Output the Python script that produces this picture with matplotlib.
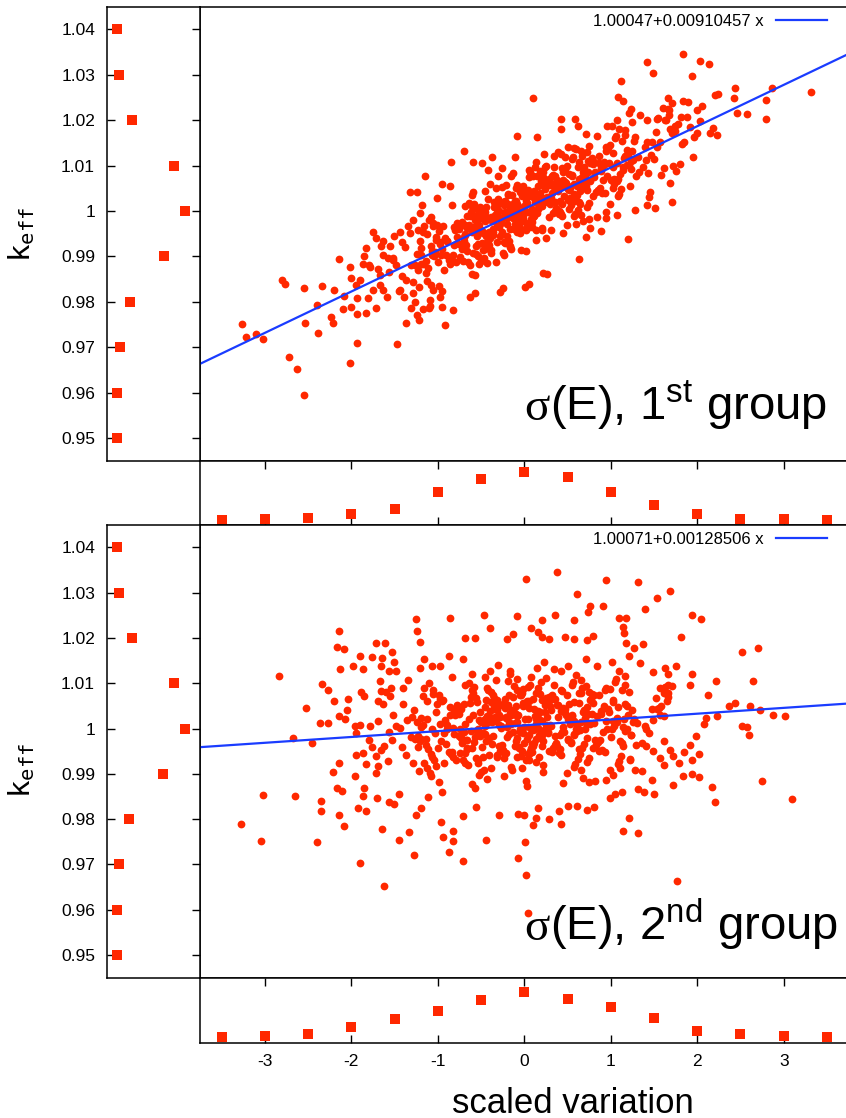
import numpy as np
import matplotlib
matplotlib.use("Agg")
import matplotlib.pyplot as plt

plt.rcParams["font.family"] = ["Liberation Sans", "DejaVu Sans"]
plt.rcParams["mathtext.fontset"] = "custom"
plt.rcParams["mathtext.rm"] = "Liberation Sans"
plt.rcParams["mathtext.it"] = "Liberation Sans:italic"
plt.rcParams["mathtext.bf"] = "Liberation Sans:bold"
plt.rcParams["mathtext.tt"] = "DejaVu Sans Mono"
plt.rcParams["axes.unicode_minus"] = False

RED = "#ff2800"
BLUE = "#1a3cff"
W, H = 846, 1118

XLIM = (-3.75, 3.72)
YLIM = (0.945, 1.045)

# linear fits given in the legends
FIT1 = (1.00047, 0.00910457)
FIT2 = (1.00071, 0.00128506)

# marginal histogram of the scaled variation
VAR_BINS = [-3.5, -3, -2.5, -2, -1.5, -1, -0.5, 0, 0.5, 1, 1.5, 2, 2.5, 3, 3.5]
VAR_HIST1 = [0, 4, 8, 24, 44, 116, 168, 196, 176, 116, 64, 24, 4, 4, 0]
VAR_HIST2 = [4, 8, 16, 45, 76, 108, 152, 184, 156, 124, 80, 28, 16, 8, 4]

# marginal histogram of keff
KEFF_BINS = [0.95, 0.96, 0.97, 0.98, 0.99, 1.00, 1.01, 1.02, 1.03, 1.04]
KEFF_LABELS = ["0.95", "0.96", "0.97", "0.98", "0.99", "1", "1.01", "1.02", "1.03", "1.04"]
KEFF_HIST1 = [4, 2, 18, 68, 238, 344, 288, 79, 14, 4]
KEFF_HIST2 = [2, 6, 12, 64, 234, 344, 288, 78, 16, 2]

# (scaled variation, keff), 1st group
PTS1 = [
    (-3.26,0.9751),(-3.22,0.9723),(-3.10,0.9729),(-3.02,0.9718),(-2.80,0.9848),(-2.77,0.9840),(-2.55,0.9831),
    (-2.34,0.9835),(-2.54,0.9754),(-2.40,0.9793),(-2.38,0.9732),(-2.24,0.9767),(-2.21,0.9754),(-2.14,0.9895),
    (-2.09,0.9813),(-2.01,0.9877),(-2.00,0.9853),(-2.00,0.9789),(-1.94,0.9809),(-1.94,0.9774),(-1.90,0.9848),
    (-1.87,0.9884),(-1.85,0.9901),(-1.83,0.9919),(-1.78,0.9877),(-1.81,0.9809),(-1.83,0.9776),(-1.75,0.9954),
    (-1.71,0.9941),(-1.63,0.9934),(-1.75,0.9826),(-1.67,0.9859),(-1.67,0.9837),(-1.63,0.9826),(-1.59,0.9811),
    (-1.58,0.9897),(-1.52,0.9892),(-1.51,0.9945),(-1.44,0.9954),(-1.41,0.9932),(-1.38,0.9921),(-1.44,0.9826),
    (-1.39,0.9811),(-1.37,0.9754),(-1.31,0.9787),(-1.29,0.9820),(-1.24,0.9771),(-1.22,0.9760),(-1.17,0.9785),
    (-1.10,0.9787),(-1.09,0.9804),(-1.06,0.9826),(-0.98,0.9811),(-0.95,0.9789),(-0.92,0.9749),(-0.82,0.9782),
    (-0.63,0.9811),(-0.57,0.9820),(-0.28,0.9822),(-0.25,0.9831),(-1.32,1.0042),(-1.24,1.0042),(-1.18,1.0013),
    (-1.15,1.0077),(-0.95,1.0060),(-0.85,1.0108),(-0.70,1.0132),(-0.59,1.0108),(-0.49,1.0106),(-0.37,1.0119),
    (-0.09,1.0165),(-0.11,1.0119),(-0.26,1.0095),(-0.42,1.0090),(-0.86,1.0055),(-1.01,1.0029),(-1.08,0.9987),
    (-1.01,0.9969),(-1.29,0.9980),(-1.23,0.9958),(-1.32,0.9952),
    (-2.72,0.9679),(-2.63,0.9653),(-2.55,0.9595),(-1.93,0.9709),(-2.01,0.9666),(-1.47,0.9706),(-1.09,0.9790),
    (-1.26,0.9800),
    (1.83,1.0346),(1.42,1.0328),(2.03,1.0330),(2.14,1.0324),(1.49,1.0304),(1.94,1.0297),(1.12,1.0286),
    (0.10,1.0249),(2.44,1.0271),(2.87,1.0271),(3.31,1.0262),(2.24,1.0258),(2.42,1.0249),(2.79,1.0244),
    (1.08,1.0251),(1.14,1.0242),(1.66,1.0249),(1.71,1.0238),(1.83,1.0242),(1.89,1.0240),(1.23,1.0225),
    (1.67,1.0222),(2.00,1.0222),(2.57,1.0214),(2.46,1.0216),(2.79,1.0203),(2.03,1.0198),(2.18,1.0183),
    (2.23,1.0167),(1.96,1.0163),(2.00,1.0172),(1.81,1.0207),(1.88,1.0207),(1.74,1.0187),(1.82,1.0148),
    (1.95,1.0119),(1.68,1.0062),(1.71,1.0020),(1.80,1.0104),(1.75,1.0088),(1.51,1.0007),(1.42,1.0013),
    (1.28,1.0002),(1.44,1.0031),(1.20,0.9939),(0.63,0.9895),(1.07,0.9991),(0.94,0.9985),(0.89,0.9956),
    (0.76,0.9963),(0.71,0.9943),(0.84,0.9987),(0.75,0.9983),(0.15,1.0163),(0.42,1.0203),(0.59,1.0203),
    (0.62,1.0187),(0.42,1.0181),(0.22,0.9864),(0.26,0.9862),(0.01,0.9833),(0.05,0.9840),(0.96,1.0187),
    (1.07,1.0200),(1.25,1.0196),(1.42,1.0200),(1.53,1.0203),(1.64,1.0200),
    (-0.22,0.9997),(0.05,0.9965),(0.18,1.0089),(-0.09,0.9977),(0.12,1.0019),(-0.15,1.0076),(0.21,0.9962),
    (-0.03,1.0032),(0.09,1.0005),(-0.19,1.0035),(0.02,0.9912),(0.24,1.0048),(-0.12,0.9961),(0.15,1.0078),
    (-0.06,0.9995),(0.07,1.0087),(-0.24,0.9932),(0.11,1.0029),(-0.01,0.9977),(0.20,1.0063),(-0.17,0.9920),
    (0.03,1.0017),(-0.10,1.0051),(0.16,1.0005),(-0.04,0.9961),(0.23,1.0126),(-0.20,0.9985),(0.00,1.0038),
    (0.13,0.9959),(-0.13,1.0011),(0.06,1.0074),(-0.07,0.9963),(0.19,1.0029),(-0.23,0.9904),(0.10,1.0040),
    (-0.02,0.9991),(0.22,1.0074),(-0.16,0.9924),(0.04,1.0047),(-0.11,0.9971),(0.14,1.0108),(-0.05,0.9952),
    (0.17,1.0021),(-0.21,1.0057),(0.08,0.9982),(-0.08,1.0014),(0.25,0.9940),(-0.14,1.0036),(0.01,1.0000),
    (0.11,1.0043),(-0.18,0.9934),(0.05,1.0091),(-0.03,0.9983),(0.20,1.0058),(-0.25,0.9908),(0.14,1.0023),
    (-0.09,1.0057),(0.03,0.9966),(-0.12,1.0017),(0.18,1.0011),(-0.06,0.9990),(0.08,1.0035),(-0.20,0.9945),
    (0.22,1.0085),(0.00,1.0010),(-0.15,0.9917),(0.16,1.0055),(-0.02,0.9984),(0.12,1.0097),(-0.22,0.9930),
    (0.06,1.0038),(-0.10,0.9990),(0.19,1.0066),(-0.04,0.9913),(0.02,1.0023),(-0.17,0.9960),(0.24,1.0098),
    (-0.07,1.0000),(0.09,0.9965),(-0.13,1.0083),(0.15,0.9995),(-0.01,1.0042),(0.21,0.9958),(-0.19,1.0037),
    (0.04,0.9997),(-0.11,1.0021),(0.13,0.9937),(-0.24,0.9990),(0.07,0.9975),(0.10,1.0078),(-0.08,1.0016),
    (-0.18,0.9994),(0.08,0.9980),(-0.05,1.0041),(0.21,1.0010),(-0.14,1.0014),(0.02,0.9959),(0.17,1.0030),
    (-0.22,1.0021),(0.11,0.9990),(-0.08,1.0011),(0.04,0.9969),(-0.19,1.0016),(0.23,1.0020),(-0.01,1.0054),
    (0.14,0.9999),(-0.11,0.9998),(0.07,0.9976),(-0.24,1.0014),(0.19,1.0011),(-0.03,1.0047),(0.10,0.9986),
    (-0.16,1.0007),(0.00,1.0003),(0.25,1.0066),(-0.09,0.9953),(0.05,1.0034),(-0.20,0.9971),(0.13,1.0025),
    (-0.06,0.9970),(0.18,1.0040),(-0.13,0.9984),(0.03,1.0041),(0.22,1.0028),(-0.04,1.0043),(0.09,0.9976),
    (-0.21,0.9997),(0.16,1.0016),(-0.10,1.0023),(0.06,0.9998),(-0.15,1.0006),
    (-0.52,0.9970),(-0.31,0.9932),(-0.68,1.0011),(-0.44,0.9945),(-0.27,0.9983),(-0.61,1.0035),(-0.39,0.9908),
    (-0.73,0.9969),(-0.48,0.9953),(-0.35,1.0020),(-0.57,0.9858),(-0.29,1.0000),(-0.66,0.9912),(-0.42,1.0026),
    (-0.55,0.9945),(-0.33,1.0051),(-0.71,0.9889),(-0.46,0.9977),(-0.26,0.9954),(-0.63,0.9988),(-0.50,0.9889),
    (-0.37,0.9980),(-0.59,1.0006),(-0.41,0.9953),(-0.74,0.9898),(-0.30,1.0078),(-0.53,0.9955),(-0.45,0.9997),
    (-0.65,0.9888),(-0.34,0.9992),(-0.58,1.0016),(-0.28,0.9944),(-0.69,0.9949),(-0.43,0.9886),(-0.51,0.9985),
    (-0.36,0.9960),(-0.62,0.9998),(-0.47,0.9896),(-0.32,1.0014),(-0.72,0.9916),(-0.40,1.0059),(-0.56,0.9906),
    (-0.27,0.9981),(-0.64,1.0018),(-0.49,0.9930),(-0.38,0.9986),(-0.60,0.9862),(-0.44,1.0009),(-0.70,0.9935),
    (-0.31,1.0005),(-0.54,0.9901),(-0.46,1.0044),(-0.67,0.9925),(-0.35,1.0008),(-0.52,0.9884),(-0.29,0.9984),
    (-0.61,1.0010),(-0.41,0.9926),(-0.75,0.9960),(-0.48,0.9951),(-0.38,0.9915),(-0.57,0.9981),(-0.33,0.9887),
    (-0.66,0.9989),(-0.43,0.9982),(-0.53,0.9927),(-0.26,1.0052),(-0.70,0.9942),(-0.45,0.9916),(-0.59,1.0041),
    (-0.36,0.9948),(-0.50,0.9998),(-0.63,0.9882),(-0.30,1.0027),
    (-0.68,0.9948),(-0.42,0.9935),(-0.55,0.9991),(-0.29,0.9965),(-0.64,0.9969),(-0.48,0.9913),(-0.33,0.9984),
    (-0.72,0.9976),(-0.39,0.9945),(-0.58,0.9965),(-0.46,0.9923),(-0.69,0.9970),(-0.27,0.9974),(-0.51,1.0009),
    (-0.36,0.9953),(-0.61,0.9953),(-0.43,0.9931),(-0.74,0.9969),(-0.31,0.9966),(-0.53,1.0002),(-0.40,0.9941),
    (-0.66,0.9962),(-0.50,0.9958),(-0.25,1.0020),(-0.59,0.9907),(-0.45,0.9988),(-0.70,0.9925),(-0.37,0.9979),
    (-0.56,0.9924),(-0.32,0.9995),
    (0.48,1.0061),(0.29,0.9986),(0.66,1.0133),(0.41,1.0022),(0.57,1.0060),(0.34,1.0121),(0.72,1.0009),
    (0.52,1.0082),(0.26,1.0021),(0.63,1.0109),(0.45,0.9951),(0.69,1.0089),(0.37,1.0006),(0.55,1.0114),
    (0.31,1.0028),(0.60,1.0136),(0.43,0.9993),(0.74,1.0086),(0.50,1.0024),(0.28,1.0071),(0.58,0.9988),
    (0.39,1.0050),(0.67,1.0121),(0.46,1.0032),(0.33,0.9995),(0.71,1.0170),(0.53,1.0051),(0.27,1.0063),
    (0.62,1.0003),(0.42,1.0061),(0.56,1.0120),(0.35,1.0001),(0.70,1.0076),(0.49,0.9970),(0.30,1.0058),
    (0.64,1.0051),(0.44,1.0094),(0.59,0.9993),(0.36,1.0076),(0.73,1.0047),(0.51,1.0141),(0.40,0.9993),
    (0.65,1.0065),(0.25,1.0099),(0.54,1.0024),(0.47,1.0064),(0.68,0.9979),(0.32,1.0078),(0.61,1.0055),
    (0.38,1.0068),(0.75,1.0018),(0.43,1.0125),(0.57,1.0038),(0.29,1.0066),(0.66,0.9991),(0.50,1.0056),
    (0.34,1.0096),(0.63,1.0020),(0.45,1.0069),(0.70,1.0059),(0.27,1.0020),(0.55,1.0078),(0.40,0.9999),
    (0.72,1.0131),(0.48,1.0054),(0.31,0.9959),(0.62,1.0096),(0.36,1.0019),(0.58,1.0139),(0.44,0.9990),
    (0.69,1.0096),(0.52,1.0046),(0.33,1.0079),(0.60,0.9972),(0.47,1.0119),(0.26,1.0030),(0.64,1.0015),
    (0.39,1.0131),(0.53,1.0029),(0.74,1.0110),
    (0.32,1.0039),(0.58,1.0026),(0.45,1.0087),(0.71,1.0056),(0.36,1.0060),(0.52,1.0004),(0.67,1.0075),
    (0.28,1.0066),(0.61,1.0036),(0.42,1.0056),(0.54,1.0014),(0.31,1.0061),(0.73,1.0065),(0.49,1.0100),
    (0.64,1.0044),(0.39,1.0044),(0.57,1.0022),(0.26,1.0060),(0.69,1.0057),(0.47,1.0093),(0.60,1.0032),
    (0.34,1.0053),(0.50,1.0049),(0.75,1.0111),(0.41,0.9998),(0.55,1.0079),(0.30,1.0016),(0.63,1.0070),
    (0.44,1.0015),(0.68,1.0086),
    (0.98,1.0106),(0.79,1.0032),(1.16,1.0179),(0.91,1.0068),(1.07,1.0105),(0.84,1.0166),(1.22,1.0054),
    (1.02,1.0128),(0.76,1.0066),(1.13,1.0155),(0.95,0.9997),(1.19,1.0134),(0.87,1.0051),(1.05,1.0160),
    (0.81,1.0074),(1.10,1.0181),(0.93,1.0039),(1.24,1.0132),(1.00,1.0069),(0.78,1.0116),(1.08,1.0033),
    (0.89,1.0095),(1.17,1.0167),(0.96,1.0077),(0.83,1.0041),(1.21,1.0215),(1.03,1.0097),(0.77,1.0108),
    (1.12,1.0049),(0.92,1.0107),(1.06,1.0166),(0.85,1.0046),(1.20,1.0121),(0.99,1.0015),(0.80,1.0104),
    (1.14,1.0097),(0.94,1.0140),(1.09,1.0038),(0.86,1.0121),(1.23,1.0093),(1.01,1.0187),(0.90,1.0039),
    (1.15,1.0116),(0.75,1.0144),(1.04,1.0070),
    (0.82,1.0085),(1.08,1.0071),(0.95,1.0133),(1.21,1.0101),(0.86,1.0105),(1.02,1.0050),(1.17,1.0121),
    (0.78,1.0112),(1.11,1.0081),(0.92,1.0102),(1.04,1.0060),(0.81,1.0107),(1.23,1.0111),(0.99,1.0145),
    (1.14,1.0090),(0.89,1.0089),(1.07,1.0067),(0.76,1.0105),(1.19,1.0102),(0.97,1.0138),
    (1.48,1.0152),(1.29,1.0077),(1.66,1.0224),(1.41,1.0113),(1.57,1.0151),(1.34,1.0212),(1.72,1.0100),
    (1.52,1.0173),(1.26,1.0112),(1.63,1.0200),(1.45,1.0042),(1.69,1.0180),(1.37,1.0097),(1.55,1.0205),
    (1.31,1.0119),(1.60,1.0227),(1.43,1.0084),(1.74,1.0177),(1.50,1.0115),(1.28,1.0162),(1.58,1.0079),
    (1.39,1.0140),(1.67,1.0212),(1.46,1.0123),(1.33,1.0086),(1.71,1.0171),(1.53,1.0142),(1.27,1.0154),
    (1.62,1.0094),(1.42,1.0152),
    (1.85,1.0153),(2.05,1.0232),(1.78,1.0192),(2.15,1.0171),(1.92,1.0185),(2.20,1.0255),
    (-0.98,0.9928),(-0.79,0.9888),(-1.16,0.9967),(-0.91,0.9902),(-1.07,0.9911),(-0.84,1.0014),(-1.22,0.9832),
    (-1.02,0.9942),(-0.76,0.9928),(-1.13,0.9949),(-0.95,0.9824),(-1.19,0.9918),(-0.87,0.9893),(-1.05,0.9968),
    (-0.81,0.9926),(-1.10,0.9981),(-0.93,0.9870),(-1.24,0.9906),(-1.00,0.9887),(-0.78,0.9974),(-1.08,0.9837),
    (-0.89,0.9933),(-1.17,0.9954),(-0.96,0.9903),(-0.83,0.9890),(-1.21,0.9995),(-1.03,0.9909),(-0.77,0.9968),
    (-1.12,0.9845),(-0.92,0.9939),(-1.06,0.9973),(-0.85,0.9892),(-1.20,0.9903),(-0.99,0.9835),(-0.80,0.9958),
    (-1.14,0.9889),(-0.94,0.9968),
    (-0.82,0.9902),(-1.08,0.9924),(-0.95,0.9916),(-1.21,0.9933),(-0.86,0.9883),(-1.02,0.9936),(-1.17,0.9883),
    (-0.78,0.9942),(-1.11,0.9874),(-0.92,0.9940),(-1.04,0.9901),(-0.81,0.9964),(-1.23,0.9871),(-0.99,0.9957),
    (-1.14,0.9864),(-0.89,0.9935),(-1.07,0.9903),(-0.76,0.9963),(-1.19,0.9884),(-0.97,0.9932),
    (-1.48,0.9882),(-1.29,0.9843),(-1.66,0.9922),(-1.41,0.9857),(-1.57,0.9865),(-1.34,0.9968),(-1.72,0.9787),
    (-1.52,0.9897),(-1.26,0.9882),(-1.63,0.9904),(-1.45,0.9823),(-1.69,0.9872),(-1.37,0.9847),(-1.55,0.9923),
    (-1.31,0.9881),
    (-1.95,0.9838),(-2.10,0.9784),(-1.80,0.9881),(-2.20,0.9825),
]

# (scaled variation, keff), 2nd group
PTS2 = [
    (-2.84,1.0115),(-3.28,0.9789),(-3.05,0.9751),(-3.02,0.9854),(-2.65,0.9851),(-2.67,0.9980),(-2.53,1.0045),
    (-2.46,0.9967),(-2.40,0.9749),(-2.35,0.9841),(-2.35,0.9819),(-2.34,1.0099),(-2.36,1.0013),(-2.27,1.0013),
    (-2.27,1.0086),(-2.20,1.0060),(-2.17,1.0180),(-2.14,1.0215),(-2.08,1.0175),(-2.13,1.0132),(-2.14,1.0028),
    (-2.07,1.0021),(-2.04,1.0065),(-1.98,1.0137),(-1.90,1.0161),(-1.87,1.0131),(-1.89,1.0080),(-1.85,1.0072),
    (-1.96,1.0006),(-1.90,1.0008),(-1.78,1.0006),(-1.76,1.0159),(-1.71,1.0189),(-1.61,1.0189),(-1.64,1.0155),
    (-1.53,1.0170),(-1.66,1.0138),(-1.51,1.0148),(-1.57,1.0126),(-1.48,1.0127),(-1.67,1.0105),(-1.54,1.0090),
    (-1.60,1.0080),(-1.69,1.0060),(-1.40,1.0090),(-1.25,1.0242),(-1.24,1.0216),(-1.21,1.0190),(-1.16,1.0154),
    (-1.07,1.0138),(-0.97,1.0137),(-0.86,1.0243),(-0.87,1.0160),(-0.71,1.0154),(-0.47,1.0250),(-0.40,1.0222),
    (-0.09,1.0249),(0.02,1.0331),(-0.20,1.0198),(-0.13,1.0208),(-0.69,1.0200),(-0.57,1.0200),(-1.95,0.9942),
    (-1.87,0.9946),(-1.83,0.9922),(-1.96,0.9896),(-2.14,0.9925),(-2.21,0.9904),(-2.17,0.9869),(-2.11,0.9863),
    (-2.14,0.9810),(-2.08,0.9784),(-1.92,0.9825),(-1.83,0.9817),(-1.87,0.9851),(-1.85,0.9869),(-1.76,0.9959),
    (-1.69,0.9917),(-1.70,0.9847),(-1.65,0.9779),(-1.56,0.9838),(-1.51,0.9834),(-1.45,0.9755),(-1.33,0.9772),
    (-1.27,0.9721),(-1.20,0.9825),(-1.25,0.9809),(-1.11,0.9848),(-0.96,0.9793),(-0.94,0.9761),(-0.87,0.9727),
    (-0.83,0.9774),(-0.83,0.9751),(-0.71,0.9707),(-0.71,0.9806),(-0.56,0.9826),(-0.44,0.9754),(-0.29,0.9809),
    (-1.90,0.9704),(-1.62,0.9652),(-0.07,0.9715),(0.02,0.9677),(0.04,0.9593),(0.01,0.9750),(-0.07,0.9812),
    (0.38,1.0346),(0.95,1.0329),(1.31,1.0323),(0.61,1.0297),(1.53,1.0288),(1.68,1.0304),(0.36,1.0251),
    (0.76,1.0271),(0.91,1.0271),(0.74,1.0258),(0.57,1.0239),(0.21,1.0239),(1.10,1.0244),(1.18,1.0243),
    (1.40,1.0263),(1.94,1.0250),(2.04,1.0242),(1.81,1.0201),(1.14,1.0225),(1.15,1.0210),(1.18,1.0189),
    (1.27,1.0178),(1.37,1.0187),(0.08,1.0221),(0.16,1.0214),(0.20,1.0203),(0.29,1.0198),(0.47,1.0202),
    (0.57,1.0198),(0.73,1.0195),(0.79,1.0205),(2.52,1.0168),(2.70,1.0178),(1.75,1.0138),(1.94,1.0121),
    (1.92,1.0096),(2.22,1.0106),(2.12,1.0073),(2.64,1.0104),(2.37,1.0050),(2.44,1.0056),(2.61,1.0049),
    (2.72,1.0041),(2.88,1.0029),(3.02,1.0027),(2.23,1.0027),(2.10,1.0023),(2.08,1.0010),(2.52,1.0005),
    (2.57,1.0004),(2.60,0.9985),(1.99,0.9983),(1.92,0.9963),(2.02,0.9944),(1.85,0.9948),(1.94,0.9931),
    (1.79,0.9925),(1.83,0.9895),(1.94,0.9900),(2.02,0.9894),(1.72,0.9875),(2.17,0.9870),(2.21,0.9838),
    (2.75,0.9885),(3.09,0.9845),(1.48,0.9887),(1.32,0.9867),(1.38,0.9860),(1.50,0.9856),(1.21,0.9803),
    (1.14,0.9774),(1.32,0.9769),(1.77,0.9664),(0.10,0.9787),(0.13,0.9803),(0.28,0.9801),(0.43,0.9789),
    (0.16,0.9825),(0.40,0.9818),(0.51,0.9828),(0.61,0.9830),(0.72,0.9820),(0.81,0.9826),(0.00,0.9810),
    (0.99,0.9847),(1.05,0.9856),(1.13,0.9860),(0.75,0.9881),(0.82,0.9885),(1.03,0.9898),(1.11,0.9913),
    (1.22,0.9930),(1.28,0.9909),(1.36,0.9906),(1.41,0.9961),(1.49,0.9950),(1.61,0.9972),(1.68,0.9953),
    (1.57,0.9935),(1.61,0.9920),(1.49,1.0019),(1.61,1.0027),(1.56,1.0045),(1.65,1.0060),(1.66,1.0078),
    (1.57,1.0089),(1.63,1.0134),(1.66,1.0096),(1.49,1.0124),
    (-0.21,1.0024),(0.06,0.9944),(0.19,1.0102),(-0.08,0.9979),(0.13,1.0011),(-0.16,1.0126),(0.22,0.9920),
    (-0.02,1.0049),(0.10,0.9996),(-0.18,1.0073),(0.03,0.9874),(0.24,1.0036),(-0.11,0.9961),(0.16,1.0090),
    (-0.05,1.0000),(0.08,1.0113),(-0.23,0.9936),(0.12,1.0027),(0.00,0.9969),(0.21,1.0063),(-0.14,0.9909),
    (0.04,1.0020),(-0.09,1.0084),(0.17,0.9986),(-0.03,0.9951),(0.23,1.0147),(-0.20,1.0004),(0.01,1.0053),
    (0.14,0.9926),(-0.12,1.0032),(0.07,1.0097),(-0.06,0.9957),(0.20,1.0017),(-0.24,0.9895),(0.11,1.0043),
    (-0.01,0.9990),(0.18,1.0076),(-0.15,0.9915),(0.05,1.0060),(-0.10,0.9973),(0.15,1.0133),(-0.04,0.9940),
    (0.25,1.0008),(-0.19,1.0106),(0.09,0.9965),(-0.07,1.0029),(0.02,0.9884),(-0.13,1.0069),(0.12,0.9999),
    (-0.22,1.0046),(0.06,0.9930),(-0.17,1.0120),(0.19,0.9980),(-0.02,1.0056),(0.22,0.9903),(-0.09,1.0014),
    (0.04,1.0091),(-0.25,0.9948),(0.16,1.0039),(-0.05,0.9993),(0.10,1.0065),(-0.18,0.9987),(0.01,1.0022),
    (0.21,0.9962),(-0.12,1.0095),(0.07,1.0002),(-0.21,0.9947),(0.13,1.0078),(-0.03,0.9912),(0.24,1.0051),
    (-0.15,1.0010),(0.03,0.9977),(-0.08,1.0109),(0.17,0.9937),(-0.11,1.0034),
    (-0.18,1.0015),(0.08,0.9956),(-0.05,1.0073),(0.21,0.9985),(-0.14,1.0042),(0.02,0.9930),(0.17,1.0021),
    (-0.22,1.0065),(0.11,0.9967),(-0.08,1.0028),(0.04,0.9943),(-0.19,1.0052),(0.23,0.9997),(-0.01,1.0087),
    (0.14,0.9977),(-0.11,1.0012),(0.07,0.9951),(-0.24,1.0057),(0.19,0.9989),(-0.03,1.0079),(0.10,0.9962),
    (-0.16,1.0034),(0.00,1.0004),(0.25,1.0068),(-0.09,0.9937),(0.05,1.0045),(-0.20,0.9981),(0.13,1.0020),
    (-0.06,0.9959),(0.18,1.0037),(-0.13,0.9993),(0.03,1.0060),(0.22,0.9972),(-0.04,1.0074),(0.09,0.9948),
    (-0.21,1.0025),(0.16,1.0001),(-0.10,1.0050),(0.06,0.9986),(-0.15,1.0031),
    (-0.52,1.0018),(-0.31,0.9938),(-0.68,1.0096),(-0.44,0.9973),(-0.27,1.0005),(-0.61,1.0120),(-0.39,0.9914),
    (-0.73,1.0043),(-0.48,0.9990),(-0.35,1.0067),(-0.57,0.9868),(-0.29,1.0030),(-0.66,0.9955),(-0.42,1.0084),
    (-0.55,0.9994),(-0.33,1.0107),(-0.71,0.9930),(-0.46,1.0021),(-0.26,0.9963),(-0.63,1.0057),(-0.50,0.9903),
    (-0.37,1.0014),(-0.59,1.0078),(-0.41,0.9980),(-0.74,0.9945),(-0.30,1.0141),(-0.53,0.9998),(-0.45,1.0047),
    (-0.65,0.9920),(-0.34,1.0026),(-0.58,1.0091),(-0.28,0.9951),(-0.69,1.0011),(-0.43,0.9889),(-0.51,1.0037),
    (-0.36,0.9984),(-0.62,1.0070),(-0.47,0.9909),(-0.32,1.0054),(-0.72,0.9967),(-0.40,1.0127),(-0.56,0.9934),
    (-0.27,1.0002),(-0.64,1.0100),(-0.49,0.9959),(-0.38,1.0023),(-0.60,0.9878),(-0.44,1.0063),(-0.70,0.9993),
    (-0.31,1.0040),(-0.54,0.9924),(-0.46,1.0114),(-0.67,0.9974),(-0.35,1.0050),(-0.52,0.9897),(-0.29,1.0008),
    (-0.61,1.0085),(-0.41,0.9942),(-0.75,1.0033),(-0.48,0.9987),(-0.38,1.0059),(-0.57,0.9981),(-0.33,1.0016),
    (-0.66,0.9956),(-0.43,1.0089),(-0.53,0.9996),
    (-0.68,0.9924),(-0.42,1.0015),(-0.55,1.0059),(-0.29,0.9961),(-0.64,1.0022),(-0.48,0.9937),(-0.33,1.0046),
    (-0.72,0.9991),(-0.39,1.0081),(-0.58,0.9971),(-0.46,1.0006),(-0.69,0.9945),(-0.27,1.0051),(-0.51,0.9983),
    (-0.36,1.0073),(-0.61,0.9956),(-0.43,1.0028),(-0.74,0.9998),(-0.31,1.0062),(-0.53,0.9931),(-0.40,1.0039),
    (-0.66,0.9975),(-0.50,1.0014),(-0.25,0.9953),(-0.59,1.0031),(-0.45,0.9987),(-0.70,1.0054),(-0.37,0.9966),
    (-0.56,1.0068),(-0.32,0.9942),(-0.47,1.0019),(-0.62,0.9995),(-0.35,1.0044),(-0.73,0.9980),(-0.28,1.0025),
    (0.48,1.0030),(0.29,0.9950),(0.66,1.0108),(0.41,0.9985),(0.57,1.0017),(0.34,1.0132),(0.72,0.9926),
    (0.52,1.0055),(0.26,1.0002),(0.63,1.0079),(0.45,0.9880),(0.69,1.0042),(0.37,0.9967),(0.55,1.0096),
    (0.31,1.0006),(0.60,1.0119),(0.43,0.9942),(0.74,1.0033),(0.50,0.9975),(0.28,1.0069),(0.58,0.9915),
    (0.39,1.0026),(0.67,1.0090),(0.46,0.9992),(0.33,0.9957),(0.71,1.0153),(0.53,1.0010),(0.27,1.0059),
    (0.62,0.9932),(0.42,1.0038),(0.56,1.0103),(0.35,0.9963),(0.70,1.0023),(0.49,0.9901),(0.30,1.0049),
    (0.64,0.9996),(0.44,1.0082),(0.59,0.9921),(0.36,1.0066),(0.73,0.9979),(0.51,1.0139),(0.40,0.9946),
    (0.65,1.0014),(0.25,1.0112),(0.54,0.9971),(0.47,1.0035),(0.68,0.9890),(0.32,1.0075),(0.61,1.0005),
    (0.38,1.0052),(0.75,0.9936),(0.43,1.0126),(0.57,0.9986),(0.29,1.0062),(0.66,0.9909),(0.50,1.0020),
    (0.34,1.0097),(0.63,0.9954),(0.45,1.0045),(0.70,0.9999),(0.27,0.9993),(0.55,1.0028),
    (0.32,0.9949),(0.58,1.0058),(0.45,1.0003),(0.71,1.0093),(0.36,0.9983),(0.52,1.0018),(0.67,0.9957),
    (0.28,1.0063),(0.61,0.9995),(0.42,1.0085),(0.54,0.9968),(0.31,1.0040),(0.73,1.0010),(0.49,1.0074),
    (0.64,0.9943),(0.39,1.0051),(0.57,0.9987),(0.26,1.0026),(0.69,0.9965),(0.47,1.0043),(0.60,0.9999),
    (0.34,1.0066),(0.50,0.9978),(0.75,1.0080),(0.41,0.9954),(0.55,1.0031),(0.30,1.0007),(0.63,1.0056),
    (0.44,0.9992),(0.68,1.0037),(0.53,1.0021),(0.38,0.9962),(0.65,1.0079),(0.27,0.9991),(0.72,1.0048),
    (0.98,1.0037),(0.79,0.9957),(1.16,1.0115),(0.91,0.9992),(1.07,1.0024),(0.84,1.0139),(1.22,0.9933),
    (1.02,1.0062),(0.76,1.0009),(1.13,1.0086),(0.95,0.9887),(1.19,1.0049),(0.87,0.9974),(1.05,1.0103),
    (0.81,1.0013),(1.10,1.0126),(0.93,0.9949),(1.24,1.0040),(1.00,0.9982),(0.78,1.0076),(1.08,0.9922),
    (0.89,1.0033),(1.17,1.0097),(0.96,0.9999),(0.83,0.9964),(1.21,1.0160),(1.03,1.0017),(0.77,1.0066),
    (1.12,0.9939),(0.92,1.0045),(1.06,1.0110),(0.85,0.9970),(1.20,1.0030),(0.99,0.9908),(0.80,1.0056),
    (1.14,1.0003),(0.94,1.0089),(1.09,0.9928),(0.86,1.0073),(1.23,0.9986),(1.01,1.0146),(0.90,0.9953),
    (1.15,1.0021),
    (0.82,0.9975),(1.08,1.0047),(0.95,1.0017),(1.21,1.0081),(0.86,0.9950),(1.02,1.0058),(1.17,0.9994),
    (0.78,1.0033),(1.11,0.9972),(0.92,1.0050),(1.04,1.0006),(0.81,1.0073),(1.23,0.9985),(0.99,1.0087),
    (1.14,0.9961),(0.89,1.0038),(1.07,1.0014),(0.76,1.0063),(1.19,0.9999),(0.97,1.0044),(0.84,1.0028),
    (1.13,0.9969),(0.93,1.0086),(1.01,0.9998),(1.16,1.0055),
    (-0.98,1.0011),(-0.79,0.9931),(-1.16,1.0089),(-0.91,0.9966),(-1.07,0.9998),(-0.84,1.0113),(-1.22,0.9907),
    (-1.02,1.0036),(-0.76,0.9983),(-1.13,1.0060),(-0.95,0.9861),(-1.19,1.0023),(-0.87,0.9948),(-1.05,1.0077),
    (-0.81,0.9987),(-1.10,1.0100),(-0.93,0.9923),(-1.24,1.0014),(-1.00,0.9956),(-0.78,1.0050),(-1.08,0.9896),
    (-0.89,1.0007),(-1.17,1.0071),(-0.96,0.9973),(-0.83,0.9938),(-1.21,1.0134),(-1.03,0.9991),(-0.77,1.0040),
    (-1.12,0.9913),(-0.92,1.0019),(-1.06,1.0084),(-0.85,0.9944),(-1.20,1.0004),(-0.99,0.9882),(-0.80,1.0030),
    (-1.14,0.9977),(-0.94,1.0063),(-1.09,0.9902),(-0.86,1.0047),(-1.23,0.9960),
    (-0.82,1.0002),(-1.08,0.9943),(-0.95,1.0060),(-1.21,0.9972),(-0.86,1.0029),(-1.02,0.9917),(-1.17,1.0008),
    (-0.78,1.0052),(-1.11,0.9954),(-0.92,1.0015),(-1.04,0.9930),(-0.81,1.0039),(-1.23,0.9984),(-0.99,1.0074),
    (-1.14,0.9964),(-0.89,0.9999),(-1.07,0.9938),(-0.76,1.0044),(-1.19,0.9976),(-0.97,1.0066),(-0.84,0.9949),
    (-1.13,1.0021),(-0.93,0.9991),(-1.01,1.0055),(-1.16,0.9924),
    (-1.48,1.0005),(-1.29,0.9925),(-1.66,1.0083),(-1.41,0.9960),(-1.57,0.9992),(-1.34,1.0107),(-1.72,0.9901),
    (-1.52,1.0030),(-1.26,0.9977),(-1.63,1.0054),(-1.45,0.9855),(-1.69,1.0017),(-1.37,0.9942),(-1.55,1.0071),
    (-1.31,0.9981),
    (-1.30,1.0026),(-1.62,0.9962),(-1.44,1.0001),(-1.71,0.9940),(-1.36,1.0018),(-1.53,0.9974),(-1.27,1.0041),
    (-1.66,0.9953),(-1.40,1.0055),(-1.58,0.9929),
    (1.48,1.0043),(1.29,0.9963),(1.66,1.0121),(1.41,0.9998),(1.57,1.0030),(1.34,1.0145),(1.72,0.9939),
    (1.52,1.0068),(1.26,1.0015),(1.63,1.0092),
    (1.30,1.0012),(1.62,1.0079),(1.44,0.9991),(1.71,1.0093),(1.36,0.9967),(1.53,1.0044),(1.27,1.0020),
    (1.66,1.0069),(1.40,1.0005),(1.58,1.0050),
    (-1.95,0.9990),(-2.05,1.0040),(-1.80,0.9975),
]


def rect(left, top, right, bottom):
    # pixel box -> figure fraction
    return [left / W, 1 - bottom / H, (right - left) / W, (bottom - top) / H]


def draw_panel(fig, top, bottom, mbottom, pts, fit, var_hist, keff_hist,
               lab_main, lab_sup, txt_x, txt_y, ylab_y, last):
    ax = fig.add_axes(rect(200, top, 846, bottom))
    axl = fig.add_axes(rect(106.7, top, 200, bottom))
    axb = fig.add_axes(rect(200, bottom, 846, mbottom))

    pts = np.array(pts)
    ax.plot(pts[:, 0], pts[:, 1], "o", ms=5.6, mew=0, color=RED, zorder=2)
    xx = np.array(XLIM)
    ax.plot(xx, fit[0] + fit[1] * xx, color=BLUE, lw=1.6, zorder=3,
            label=f"{fit[0]}+{fit[1]} x")
    ax.set_xlim(XLIM)
    ax.set_ylim(YLIM)
    ax.set_xticks([])
    ax.set_yticks([])
    ax.spines["right"].set_visible(False)
    ax.legend(loc="upper right", bbox_to_anchor=(0.970, 0.9837), frameon=False,
              markerfirst=False, handlelength=3.06, handletextpad=0.7,
              borderaxespad=0, borderpad=0, fontsize=12)
    ax.text(txt_x, txt_y, "(E), " + lab_main + r"$^{\mathrm{" + lab_sup + "}}$ group",
            transform=ax.transAxes, fontsize=34, ha="left", va="baseline", zorder=1)
    ax.text(txt_x, txt_y, "σ", family=["Liberation Serif", "DejaVu Serif"],
            transform=ax.transAxes, fontsize=34, ha="right", va="baseline", zorder=1)

    axl.plot(keff_hist, KEFF_BINS, "s", ms=6.7, mew=0, color=RED)
    axl.set_xlim(-47.5, 417.5)
    axl.set_ylim(YLIM)
    axl.set_xticks([])
    axl.set_yticks(KEFF_BINS)
    axl.set_yticklabels(KEFF_LABELS)
    axl.tick_params(axis="y", direction="in", left=True, right=True,
                    length=5.8, width=1.0, labelsize=12.5, pad=8.4)

    axb.plot(VAR_BINS, var_hist, "s", ms=6.7, mew=0, color=RED)
    axb.set_xlim(XLIM)
    axb.set_ylim(-17.6, 241.2)
    axb.set_yticks([])
    axb.set_xticks(range(-3, 4))
    axb.tick_params(axis="x", direction="in", top=True, bottom=True,
                    length=5.8, width=1.0, labelsize=12.5, pad=8,
                    labelbottom=last)
    axb.spines["right"].set_visible(False)

    for a in (ax, axl, axb):
        for sp in a.spines.values():
            sp.set_linewidth(1.1)

    fig.text(22 / W, 1 - ylab_y / H, r"$\mathtt{k}_{\mathtt{eff}}$", rotation=90,
             fontsize=21, ha="center", va="center")


fig = plt.figure(figsize=(W / 100, H / 100), dpi=100)
draw_panel(fig, 6.7, 460.7, 524.7, PTS1, FIT1, VAR_HIST1, KEFF_HIST1,
           "1", "st", 0.5418, 0.0896, 235, False)
draw_panel(fig, 524.7, 977.7, 1042.7, PTS2, FIT2, VAR_HIST2, KEFF_HIST2,
           "2", "nd", 0.5418, 0.0832, 771, True)
fig.text(573 / W, 5 / H, "scaled variation", fontsize=25, ha="center", va="baseline")
fig.savefig("out.png", dpi=100)
